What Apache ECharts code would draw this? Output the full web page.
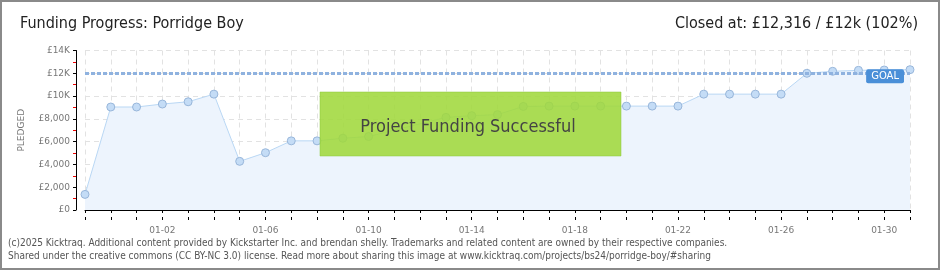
<!DOCTYPE html>
<html>
<head>
<meta charset="utf-8">
<script src="https://cdn.jsdelivr.net/npm/echarts@6/dist/echarts.min.js"></script>
<style>
  html, body { margin: 0; padding: 0; background: #fff; }
  #chart { width: 940px; height: 270px; }
</style>
</head>
<body>
<div id="chart"></div>
<script>
// days of the campaign
var days = ['12-30', '12-31', '01-01', '01-02', '01-03', '01-04', '01-05', '01-06',
  '01-07', '01-08', '01-09', '01-10', '01-11', '01-12', '01-13', '01-14', '01-15',
  '01-16', '01-17', '01-18', '01-19', '01-20', '01-21', '01-22', '01-23', '01-24',
  '01-25', '01-26', '01-27', '01-28', '01-29', '01-30', '01-31']
// pledged total per day (null = no reading)
var pledged = [1370, 9040, 9040, 9300, 9500, 10170, 4270, 5030, 6070, 6070, 6300, 6450,
  null, null, 8130, 8280, 8370, 9090, 9120, 9120, 9120, 9120, 9120, 9120,
  10170, 10170, 10170, 10170, 12000, 12175, 12260, 12290, 12316]
var goal = 12000
var title = 'Funding Progress: Porridge Boy'
var closedText = 'Closed at: £12,316 / £12k (102%)'
var footer = [
  '(c)2025 Kicktraq. Additional content provided by Kickstarter Inc. and brendan shelly. Trademarks and related content are owned by their respective companies.',
  'Shared under the creative commons (CC BY-NC 3.0) license. Read more about sharing this image at www.kicktraq.com/projects/bs24/porridge-boy/#sharing'
]

var headFont = '"Liberation Sans Narrow", "DejaVu Sans Condensed", sans-serif'
var chart = echarts.init(document.getElementById('chart'))

function money(v) {
  if (v >= 10000) return '£' + (v / 1000) + 'K'
  if (v === 0) return '£0'
  return '£' + v.toLocaleString('en-US')
}

chart.setOption({
  animation: false,
  grid: { left: 85, right: 30, top: 50.5, bottom: 60 },
  xAxis: [
    {
      type: 'category',
      data: days,
      boundaryGap: false,
      offset: 10,
      axisLine: { lineStyle: { color: '#000', width: 1 } },
      axisTick: { interval: 0, length: 3, lineStyle: { color: '#000' } },
      axisLabel: {
        interval: function (i) { return (i - 3) % 4 === 0 },
        color: '#777', fontSize: 9, fontFamily: 'DejaVu Sans', margin: 6
      },
      splitLine: { show: true, interval: 0, lineStyle: { color: '#e2e2e2', type: [5, 4] } }
    },
    {
      type: 'category',
      data: days,
      boundaryGap: false,
      position: 'bottom',
      offset: 10,
      axisLine: { show: false },
      axisTick: { interval: 0, inside: true, length: 3, lineStyle: { color: '#000' } },
      axisLabel: { show: false },
      splitLine: { show: false }
    }
  ],
  yAxis: {
    type: 'value',
    min: 0, max: 14000, interval: 2000,
    offset: 9,
    name: 'PLEDGED',
    nameLocation: 'middle',
    nameGap: 50,
    nameTextStyle: { color: '#777', fontSize: 9, fontFamily: 'DejaVu Sans' },
    axisLine: { show: true, lineStyle: { color: '#000' } },
    axisTick: { show: true, length: 3, lineStyle: { color: '#000' } },
    minorTick: { show: true, splitNumber: 2, length: 3, lineStyle: { color: '#e00' } },
    axisLabel: { formatter: money, color: '#777', fontSize: 9, fontFamily: 'DejaVu Sans', margin: 6 },
    splitLine: { lineStyle: { color: '#e2e2e2', type: [5, 4] } }
  },
  series: [
    {
      type: 'line',
      data: pledged,
      connectNulls: true,
      symbol: 'circle',
      symbolSize: 8,
      itemStyle: { color: '#c4dcf6', borderColor: '#98b6da', borderWidth: 1 },
      lineStyle: { color: '#b9d7f4', width: 1 },
      areaStyle: { color: '#edf4fd', opacity: 1 },
      markLine: {
        silent: true,
        symbol: 'none',
        data: [{ yAxis: goal }],
        lineStyle: { color: '#8fb2df', width: 3, type: [4, 2] },
        label: {
          formatter: 'GOAL',
          position: 'insideEndBottom',
          distance: [6, -4],
          color: '#fff',
          fontSize: 10,
          fontFamily: 'DejaVu Sans',
          backgroundColor: '#4a8fd8',
          padding: [2, 5],
          borderRadius: 2
        }
      }
    }
  ],
  graphic: [
    { type: 'rect', z: 100, shape: { x: 320, y: 92, width: 301, height: 64 },
      style: { fill: 'rgba(160,216,60,0.88)', stroke: 'rgba(140,200,60,0.5)', lineWidth: 1 } },
    { type: 'text', z: 101, x: 468, y: 127,
      style: { text: 'Project Funding Successful', font: '18px ' + headFont, fill: '#444',
        textAlign: 'center', textVerticalAlign: 'middle',
        textShadowColor: '#fff', textShadowOffsetX: 1, textShadowOffsetY: 1, textShadowBlur: 0 } },
    { type: 'text', x: 20, y: 24,
      style: { text: title, font: '16px ' + headFont, fill: '#222', textVerticalAlign: 'middle' } },
    { type: 'text', x: 918, y: 24,
      style: { text: closedText, font: '16px ' + headFont, fill: '#222', textAlign: 'right', textVerticalAlign: 'middle' } },
    { type: 'text', x: 8, y: 243,
      style: { text: footer[0], font: '10px "DejaVu Sans Condensed", "DejaVu Sans"', fill: '#555', textVerticalAlign: 'middle' } },
    { type: 'text', x: 8, y: 256,
      style: { text: footer[1], font: '10px "DejaVu Sans Condensed", "DejaVu Sans"', fill: '#555', textVerticalAlign: 'middle' } },
    { type: 'rect', z: 200, shape: { x: 1, y: 1, width: 938, height: 268 },
      style: { fill: 'none', stroke: '#8a8a8a', lineWidth: 2 } }
  ]
})
</script>
</body>
</html>
